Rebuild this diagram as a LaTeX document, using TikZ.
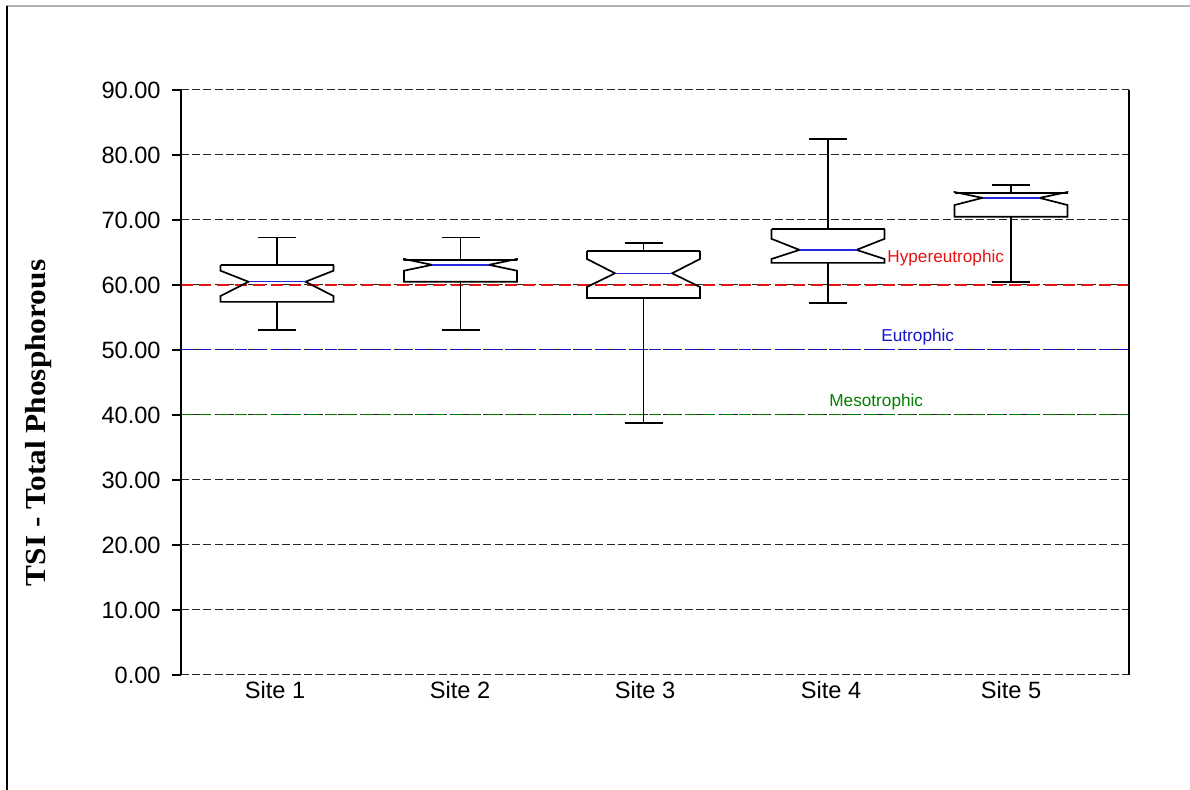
\documentclass[tikz,border=0pt]{standalone}
\usepackage{fontspec}
\setmainfont{Liberation Sans}
\newfontfamily\titlefont{Liberation Serif}
\definecolor{refred}{RGB}{230,20,20}
\definecolor{refblue}{RGB}{20,20,200}
\definecolor{refgreen}{RGB}{0,128,0}
\definecolor{medblue}{RGB}{40,40,220}
\newcommand\nbox[8]{%
  % #1 center, #2 wlo, #3 q1, #4 nl, #5 med, #6 nu, #7 q3, #8 whi
  \draw[boxline] (#1-56.5,#7) -- (#1+56.5,#7);
  \draw[boxline] (#1-56.5,#7) -- (#1-56.5,#6) -- (#1-28.5,#5) -- (#1-56.5,#4) -- (#1-56.5,#3)
     -- (#1+56.5,#3) -- (#1+56.5,#4) -- (#1+28.5,#5) -- (#1+56.5,#6) -- (#1+56.5,#7);
  \draw[medline] (#1-28.5,#5) -- (#1+28.5,#5);
  \draw[boxline] (#1,#7) -- (#1,#8) (#1-19,#8) -- (#1+19,#8);
  \draw[boxline] (#1,#3) -- (#1,#2) (#1-19,#2) -- (#1+19,#2);
}
\tikzset{
  gridline/.style={black!85, line width=0.5pt, dash pattern=on 4pt off 1.6pt},
  axisline/.style={black, line width=0.85pt},
  boxline/.style={black, line width=0.85pt, line join=miter},
  medline/.style={medblue, line width=0.75pt},
  ticklabel/.style={anchor=east, inner sep=0pt, font=\fontsize{11.8pt}{13pt}\selectfont},
  sitelabel/.style={anchor=center, inner sep=0pt, font=\fontsize{11.8pt}{13pt}\selectfont},
  annot/.style={anchor=west, inner sep=0pt, font=\fontsize{8.6pt}{10pt}\selectfont},
}
\begin{document}
\begin{tikzpicture}[x=0.5pt,y=-0.5pt]
\useasboundingbox[fill=white] (0,0) rectangle (1190,790);
% outer frame
\draw[black!30, line width=1pt] (6,6) -- (1190,6);
\draw[black, line width=0.75pt] (7,6) -- (7,790);
% title
\node[rotate=90, inner sep=0pt] (title) at (39,423)
  {\scalebox{1.08}[1]{\titlefont\bfseries\fontsize{14.5pt}{16pt}\selectfont TSI - Total Phosphorous}};
\begin{scope}[shift={(0,675)}, y=3.25pt]
  % grid
  \foreach \v in {0,10,...,90} {
    \draw[gridline] (181,\v) -- (1129,\v);
    \draw[axisline] (172,\v) -- (181,\v);
    \node[ticklabel] (t\v) at (161,\v) {\v.00};
  }
  % reference lines
  \draw[refred, line width=0.8pt, dash pattern=on 6pt off 3pt] (181,60) -- (1129,60);
  \draw[refblue, line width=0.5pt, dash pattern=on 6pt off 3pt] (181,50) -- (1129,50);
  \draw[refgreen, line width=0.5pt, dash pattern=on 6pt off 3pt] (181,40) -- (1129,40);
  % axes
  \draw[axisline] (181,0) -- (181,90);
  \draw[axisline] (1129,0) -- (1129,90);
  % boxes
  \nbox{277}{53.1}{57.4}{58.3}{60.5}{62.2}{63.1}{67.3}
  \nbox{460.5}{53.1}{60.5}{62.2}{63.1}{64.0}{63.8}{67.3}
  \nbox{643.5}{38.8}{58.0}{59.7}{61.8}{64.0}{65.2}{66.5}
  \nbox{828}{57.2}{63.4}{64.0}{65.4}{67.1}{68.6}{82.5}
  \nbox{1011}{60.5}{70.5}{72.3}{73.4}{74.3}{74.2}{75.4}
  % site labels
  \node[sitelabel] (s1) at (275,-2.3) {Site 1};
  \node[sitelabel] (s2) at (460,-2.3) {Site 2};
  \node[sitelabel] (s3) at (645,-2.3) {Site 3};
  \node[sitelabel] (s4) at (831,-2.3) {Site 4};
  \node[sitelabel] (s5) at (1011,-2.3) {Site 5};
  % annotations
  \node[annot, text=refred] (hyper) at (887,64.1) {Hypereutrophic};
  \node[annot, text=refblue] (eutro) at (881,52.0) {Eutrophic};
  \node[annot, text=refgreen] (meso) at (829,42.0) {Mesotrophic};
\end{scope}
\end{tikzpicture}
\end{document}
